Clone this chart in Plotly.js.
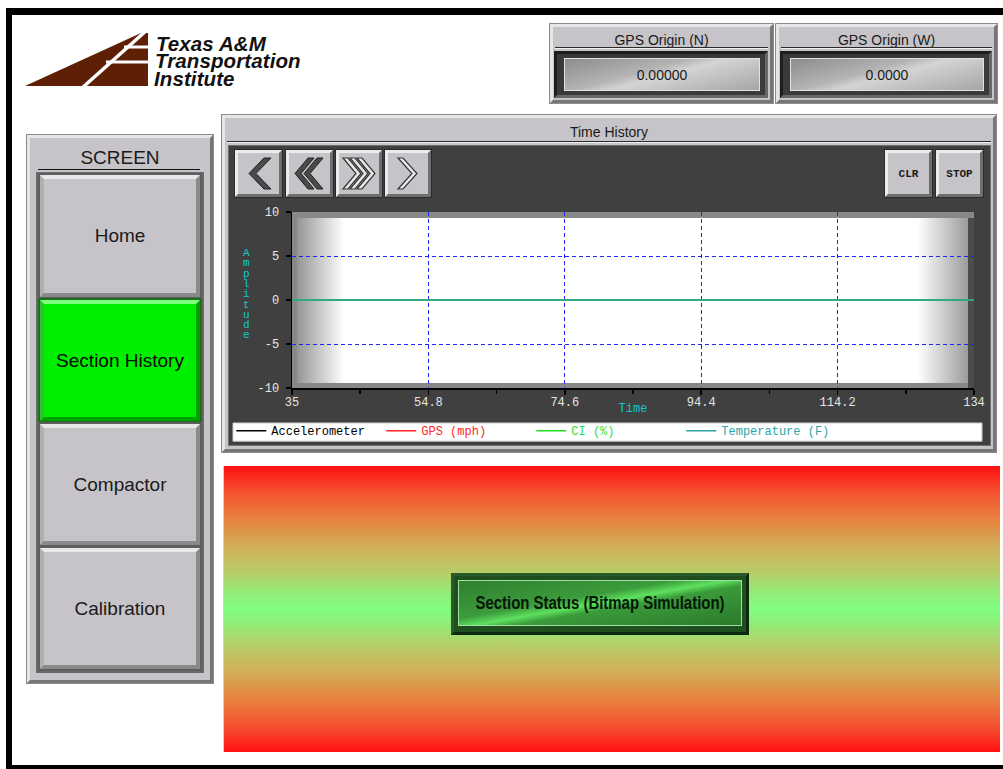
<!DOCTYPE html>
<html><head><meta charset="utf-8">
<script src="https://cdn.plot.ly/plotly-3.0.1.min.js"></script>
<style>
html,body{margin:0;padding:0;background:#fff;width:1003px;height:769px;overflow:hidden;font-family:Arial,"Liberation Sans",sans-serif;}
.abs{position:absolute;box-sizing:border-box;}
.bevel{background:#c6c4c8;border:3px solid;border-color:#e6e6e6 #767676 #767676 #e6e6e6;box-shadow:0 0 0 1px #8c8c8c;}
.ctext{display:flex;align-items:center;justify-content:center;text-align:center;color:#1a1a1a;}
.sep{height:2px;background:#2a2a2a;border-bottom:1px solid #f0f0f0;}
.valbox{background:#3a3a3a;border:3px solid;border-color:#1e1e1e #686868 #686868 #1e1e1e;}
.valin{background:linear-gradient(165deg,#8c8c8c 0%,#b4b4b4 40%,#d4d4d4 52%,#a6a6a6 100%);border:1px solid #e2e2e2;font-size:14px;}
.navbtn{background:#c6c4c8;border:3px solid;border-color:#ececec #6e6e6e #6e6e6e #ececec;box-shadow:0 0 0 1px #2a2a2a;}
.scrbtn{background:#c6c4c8;border:4px solid;border-color:#e8e8e8 #8a8a8a #8a8a8a #b0b0b0;box-shadow:0 0 0 2px #5e5e5e;font-size:19px;}
.scrbtn.on{background:#00ee00;border-color:#7dff7d #00a000 #00a000 #30c030;box-shadow:0 0 0 2px #1e6e1e;}
.logoline{position:absolute;white-space:nowrap;height:17.5px;line-height:17.5px;font-family:'Liberation Sans',Arial,sans-serif;font-style:italic;font-weight:bold;font-size:20.5px;color:#111;letter-spacing:0.1px;}
</style></head><body>

<!-- outer black frame -->
<div class="abs" style="left:6px;top:8px;width:997px;height:7px;background:#000"></div>
<div class="abs" style="left:6px;top:8px;width:6px;height:761px;background:#000"></div>
<div class="abs" style="left:6px;top:765px;width:997px;height:4px;background:#000"></div>

<!-- logo -->
<svg class="abs" style="left:0;top:0" width="160" height="100" viewBox="0 0 160 100">
  <polygon points="25,86 148,86 148,33 141,33" fill="#5e1f04"/>
  <line x1="82" y1="88" x2="147" y2="30" stroke="#fff" stroke-width="3.5"/>
  <line x1="124" y1="47" x2="150" y2="47" stroke="#fff" stroke-width="3"/>
  <line x1="106" y1="62" x2="150" y2="62" stroke="#fff" stroke-width="3"/>
</svg>
<div class="logoline" style="left:156px;top:34.5px">Texas A&amp;M</div>
<div class="logoline" style="left:155px;top:52px">Transportation</div>
<div class="logoline" style="left:154px;top:69.5px">Institute</div>

<!-- GPS panels -->
<div class="abs bevel" style="left:550px;top:24px;width:223px;height:79px"></div>
<div class="abs ctext" style="left:553px;top:30px;width:217px;height:20px;font-size:14px">GPS Origin (N)</div>
<div class="abs sep" style="left:555px;top:47px;width:213px"></div>
<div class="abs valbox" style="left:554px;top:51px;width:214px;height:47px"></div>
<div class="abs valin ctext" style="left:564px;top:58px;width:196px;height:33px">0.00000</div>

<div class="abs bevel" style="left:776px;top:24px;width:221px;height:79px"></div>
<div class="abs ctext" style="left:779px;top:30px;width:215px;height:20px;font-size:14px">GPS Origin (W)</div>
<div class="abs sep" style="left:781px;top:47px;width:211px"></div>
<div class="abs valbox" style="left:780px;top:51px;width:212px;height:47px"></div>
<div class="abs valin ctext" style="left:790px;top:58px;width:194px;height:33px">0.0000</div>

<!-- SCREEN panel -->
<div class="abs bevel" style="left:27px;top:135px;width:186px;height:548px"></div>
<div class="abs ctext" style="left:30px;top:146px;width:180px;height:24px;font-size:19px">SCREEN</div>
<div class="abs" style="left:38px;top:169px;width:162px;height:1px;background:#111"></div>
<div class="abs" style="left:36px;top:172px;width:168px;height:501px;background:#8e8e8e;border:2px solid #6a6a6a"></div>
<div class="abs scrbtn ctext" style="left:40px;top:175px;width:160px;height:122px">Home</div>
<div class="abs scrbtn on ctext" style="left:40px;top:300px;width:160px;height:121px;color:#0a0a0a">Section History</div>
<div class="abs scrbtn ctext" style="left:40px;top:424px;width:160px;height:121px">Compactor</div>
<div class="abs scrbtn ctext" style="left:40px;top:548px;width:160px;height:121px">Calibration</div>

<!-- Time History panel -->
<div class="abs bevel" style="left:222px;top:115px;width:774px;height:337px"></div>
<div class="abs ctext" style="left:226px;top:122px;width:766px;height:20px;font-size:14px">Time History</div>
<div class="abs sep" style="left:227px;top:141px;width:764px"></div>
<div class="abs" style="left:228px;top:145px;width:763px;height:301px;background:#404040;border:1px solid #707070"></div>
<div id="chart" class="abs" style="left:229px;top:146px;width:761px;height:299px"></div>

<!-- nav buttons -->
<div class="abs navbtn" style="left:235px;top:150px;width:47px;height:47px;z-index:5">
  <svg width="41" height="41" viewBox="0 0 41 41"><polygon points="26,5 33,5 18,20.5 33,36 26,36 11,20.5" fill="#4a4a4a" stroke="#222" stroke-width="1"/></svg>
</div>
<div class="abs navbtn" style="left:286px;top:150px;width:47px;height:47px;z-index:5">
  <svg width="41" height="41" viewBox="0 0 41 41"><polygon points="19,5 25,5 12,20.5 25,36 19,36 6,20.5" fill="#4a4a4a" stroke="#222" stroke-width="1"/><polygon points="28,5 34,5 21,20.5 34,36 28,36 15,20.5" fill="#4a4a4a" stroke="#222" stroke-width="1"/></svg>
</div>
<div class="abs navbtn" style="left:336px;top:150px;width:46px;height:47px;z-index:5">
  <svg width="40" height="41" viewBox="0 0 40 41"><g fill="#e8e8e8" stroke="#333" stroke-width="1.2"><polygon points="4,5 9,5 22,20.5 9,36 4,36 17,20.5"/><polygon points="11,5 16,5 29,20.5 16,36 11,36 24,20.5"/><polygon points="18,5 23,5 36,20.5 23,36 18,36 31,20.5"/></g></svg>
</div>
<div class="abs navbtn" style="left:385px;top:150px;width:46px;height:47px;z-index:5">
  <svg width="40" height="41" viewBox="0 0 40 41"><polygon points="10,5 15,5 29,20.5 15,36 10,36 24,20.5" fill="#e8e8e8" stroke="#333" stroke-width="1.2"/></svg>
</div>
<div class="abs navbtn ctext" style="left:885px;top:150px;width:47px;height:47px;z-index:5;font-family:'Liberation Mono',monospace;font-weight:bold;font-size:11px">CLR</div>
<div class="abs navbtn ctext" style="left:936px;top:150px;width:47px;height:47px;z-index:5;font-family:'Liberation Mono',monospace;font-weight:bold;font-size:11px">STOP</div>

<!-- section status area -->
<div class="abs" style="left:223px;top:466px;width:777px;height:286px;border-left:1px solid #9cf59c;background:linear-gradient(to bottom,#ff1010 0%,#f45030 9%,#e6843f 19%,#d0b25a 29%,#b4d06a 38%,#90ee78 45%,#80fe80 50%,#90ee78 55%,#b4d06a 62%,#d0b25a 71%,#e6843f 81%,#f45030 91%,#ff1010 100%)"></div>
<div class="abs" style="left:451px;top:573px;width:298px;height:62px;background:#1f4f1f;border:3px solid;border-color:#2a5a2a #0e2a0e #0e2a0e #2a5a2a"></div>
<div class="abs ctext" style="left:458px;top:580px;width:284px;height:46px;border:1px solid #a0e0a0;background:linear-gradient(170deg,#2f7f2f 0%,#3c9c3c 40%,#5ee05e 50%,#3a9a3a 58%,#2c7a2c 100%);overflow:hidden">
  <span style="display:inline-block;white-space:nowrap;transform:scaleX(0.83);font-family:'Liberation Sans',Arial,sans-serif;font-weight:bold;font-size:18px;color:#061806">Section Status (Bitmap Simulation)</span>
</div>

<script>
// ---- data ----
const sampleTimes   = [35, 54.8, 74.6, 94.4, 114.2, 134];
const accelerometer = [0, 0, 0, 0, 0, 0];
const gpsMph        = [0, 0, 0, 0, 0, 0];
const ciPercent     = [0, 0, 0, 0, 0, 0];
const temperatureF  = [0, 0, 0, 0, 0, 0];
const seriesNames   = ['Accelerometer', 'GPS (mph)', 'CI (%)', 'Temperature (F)'];
const timeTicks      = [35, 54.8, 74.6, 94.4, 114.2, 134];
const timeTickLabels = ['35', '54.8', '74.6', '94.4', '114.2', '134'];
const timeMinorTicks = [44.9, 64.7, 84.5, 104.3, 124.1];
const ampTicks       = [10, 5, 0, -5, -10];
const ampTickLabels  = ['10', '5', '0', '-5', '-10'];
const ampTitle = 'Amplitude';
const timeRange = [35, 134];
const ampRange  = [-10, 10];

const colors = ['#000000', '#ff2020', '#20e020', '#2aa6a6'];
const legendTextColors = ['#000000', '#ff2828', '#30e030', '#2aa6a6'];
const seriesValues = [accelerometer, gpsMph, ciPercent, temperatureF];

const traces = seriesValues.map((vals, i) => ({
  type: 'scatter', mode: 'lines',
  x: sampleTimes, y: vals,
  name: '<span style="color:' + legendTextColors[i] + '">' + seriesNames[i] + '</span>',
  line: {color: colors[i], width: 1.5},
  hoverinfo: 'skip'
}));

const bgSvg = 'data:image/svg+xml;utf8,' + encodeURIComponent(
  '<svg xmlns="http://www.w3.org/2000/svg" width="682" height="176" viewBox="0 0 682 176" preserveAspectRatio="none">' +
  '<defs><linearGradient id="g" x1="0" x2="1" y1="0" y2="0">' +
  '<stop offset="0" stop-color="#959595"/><stop offset="0.07" stop-color="#ffffff"/>' +
  '<stop offset="0.925" stop-color="#ffffff"/><stop offset="1" stop-color="#9c9c9c"/></linearGradient></defs>' +
  '<rect x="0" y="0" width="682" height="176" fill="#888888"/>' +
  '<rect x="676" y="6" width="6" height="170" fill="#4c4c4c"/>' +
  '<rect x="5" y="6" width="671" height="165" fill="url(#g)"/></svg>');

const mono = 'Liberation Mono, DejaVu Sans Mono, monospace';

// vertical stacked axis title letters
const ampLetters = ampTitle.split('').map((ch, i) => ({
  text: ch, xref: 'paper', yref: 'paper',
  x: -0.066, y: (388 - 253 - i * 10.3) / 176, xanchor: 'center', yanchor: 'middle',
  showarrow: false, font: {family: mono, size: 11, color: '#10c8c8'}
}));

const layout = {
  width: 761, height: 299,
  margin: {l: 63, r: 16, t: 66, b: 57, pad: 0},
  paper_bgcolor: '#404040',
  plot_bgcolor: 'rgba(0,0,0,0)',
  showlegend: true,
  legend: {
    orientation: 'h', xref: 'container', yref: 'container',
    x: 0.003, xanchor: 'left', y: 0.096, yanchor: 'top',
    bgcolor: 'rgba(0,0,0,0)', borderwidth: 0,
    font: {family: mono, size: 12, color: '#000'},
    entrywidth: 105, entrywidthmode: 'pixels',
    itemwidth: 30, tracegroupgap: 0
  },
  xaxis: {
    range: timeRange, tickmode: 'array', tickvals: timeTicks, ticktext: timeTickLabels,
    showline: true, linecolor: '#000', linewidth: 1.5,
    ticks: 'outside', ticklen: 5, tickcolor: '#000', tickwidth: 1.5,
    ticklabelstandoff: -3,
    tickfont: {family: mono, size: 12, color: '#e6e6e6'},
    showgrid: true, gridcolor: '#2222ff', gridwidth: 1, griddash: '4px,3px',
    zeroline: false,
    minor: {tickmode: 'array', tickvals: timeMinorTicks, ticklen: 4, tickcolor: '#000', tickwidth: 1.5, showgrid: false},
    title: {text: 'Time', font: {family: mono, size: 12, color: '#10c8c8'}},
    automargin: false,
    fixedrange: true
  },
  yaxis: {
    range: ampRange, tickmode: 'array', tickvals: ampTicks, ticktext: ampTickLabels,
    showline: true, linecolor: '#000', linewidth: 1.5,
    ticks: 'outside', ticklen: 5, tickcolor: '#000', tickwidth: 1.5,
    ticklabelstandoff: 4,
    tickfont: {family: mono, size: 12, color: '#e6e6e6'},
    showgrid: true, gridcolor: '#2222ff', gridwidth: 1, griddash: '4px,3px',
    zeroline: false, automargin: false, fixedrange: true
  },
  images: [{source: bgSvg, xref: 'paper', yref: 'paper', x: 0, y: 1, sizex: 1, sizey: 1,
            sizing: 'stretch', xanchor: 'left', yanchor: 'top', layer: 'below'}],
  shapes: [{type: 'rect', xref: 'paper', yref: 'paper', x0: -0.0865, x1: 1.0117, y0: -0.302, y1: -0.199,
            fillcolor: '#ffffff', line: {color: '#cfcfcf', width: 1}, layer: 'below'}],
  annotations: ampLetters
};

Plotly.newPlot('chart', traces, layout, {displayModeBar: false, staticPlot: true});
</script>
</body></html>
